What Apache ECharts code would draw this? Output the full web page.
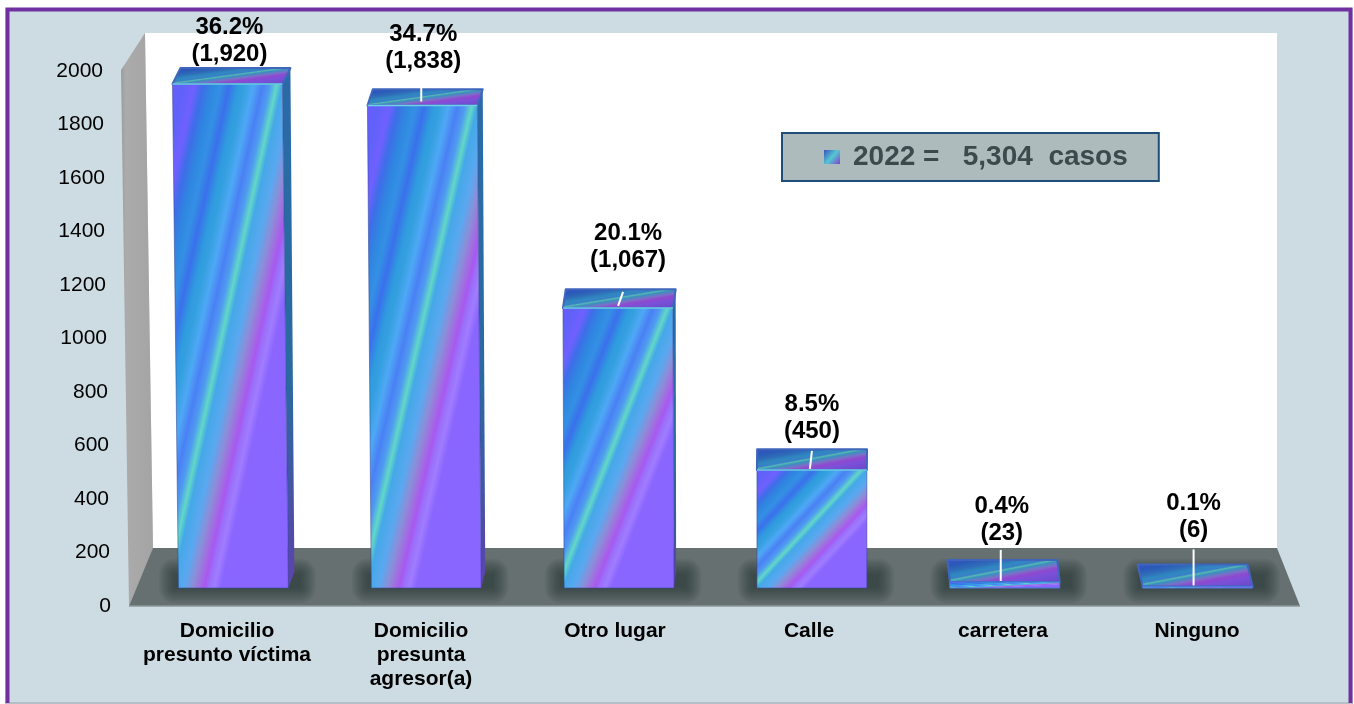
<!DOCTYPE html>
<html>
<head>
<meta charset="utf-8">
<style>html,body{margin:0;padding:0;background:#fff}#c{width:1354px;height:704px}</style>
<script src="https://cdn.jsdelivr.net/npm/echarts@6/dist/echarts.min.js"></script>
</head>
<body>
<div id="c"></div>
<script>
const categories = ['Domicilio\npresunto víctima', 'Domicilio\npresunta\nagresor(a)', 'Otro lugar', 'Calle', 'carretera', 'Ninguno'];
const values = [1920, 1838, 1067, 450, 23, 6];
const percents = ['36.2%', '34.7%', '20.1%', '8.5%', '0.4%', '0.1%'];
const counts = ['(1,920)', '(1,838)', '(1,067)', '(450)', '(23)', '(6)'];
const yTicks = [0, 200, 400, 600, 800, 1000, 1200, 1400, 1600, 1800, 2000];
const legendName = '2022 =   5,304  casos';

// Annotation layout, relative to each bar's centre and front-top edge
const labelNudge = [[-4, -16], [-3, -31], [9, -34], [0, -25], [-3, -35], [-4, -43]];
const leaderNudge = [null, [-5, -28, -5, -4], [4, -16, -1, -2], [0, -19, -2, -1], [-4, -32, -4, -1], [-4, -37, -4, -1]];

const FONT = '"Liberation Sans", Arial, sans-serif';
const stops = [
  [0, '#6a5cff'], [.05, '#5f62f8'], [.10, '#7060ff'], [.14, '#3d6ee8'], [.18, '#2f86e0'], [.22, '#3490e4'],
  [.26, '#3a70ec'], [.30, '#2f9ade'], [.33, '#35a0e0'], [.37, '#4ea8f5'], [.41, '#4a80f5'], [.445, '#4f9cf0'],
  [.475, '#62d8c6'], [.50, '#45a8e8'], [.55, '#5aa8f0'], [.59, '#8a8fd8'], [.62, '#a070e0'],
  [.645, '#a858f0'], [.665, '#9a70fa'], [.69, '#a07cff'], [.72, '#8a66ff'], [1, '#8866ff']
].map(s => ({offset: s[0], color: s[1]}));
const topStops = [
  [0, '#3a50c8'], [.14, '#2a5ab8'], [.26, '#2f6cb8'], [.36, '#2f88c0'], [.44, '#3a80c8'],
  [.475, '#55b8b0'], [.52, '#3a90c0'], [.60, '#7a70c8'], [.68, '#9048d0'], [.78, '#7a50d8'], [1, '#6a48c8']
].map(s => ({offset: s[0], color: s[1]}));

// Gradient whose iso-lines run along the box's anti-diagonal (stretched-texture look)
function stretched(x, y, w, h, cs) {
  const L = w * w + h * h, k = 2 * w * h / L;
  return {type: 'linear', global: true, x: x, y: y, x2: x + k * h, y2: y + k * w, colorStops: cs};
}

function renderBar(params, api) {
  const i = api.value(0), v = api.value(1);
  const base = api.coord([i, 0]), head = api.coord([i, v]);
  const cx = base[0], y0 = base[1], yt = head[1], h = y0 - yt;
  const w = api.size([1, 0])[0] * 0.57;
  const tilt = (cx - 826) * h * 2e-5;
  const dx = (826 - cx) * 0.0135, dy = 22 - v / 320;
  const fl = [cx - w / 2, y0], fr = [cx + w / 2, y0];
  const tl = [cx - w / 2 + tilt, yt], tr = [cx + w / 2 + tilt, yt];
  const bl = [tl[0] + dx, yt - dy], br = [tr[0] + dx, yt - dy];
  const kids = [];
  for (let k = 0; k < 10; k++) {
    const g = k * 1.7;
    kids.push({type: 'rect', shape: {x: fl[0] - 4 - g, y: y0 - 14 - g, width: w + 16 + 2 * g, height: 14 + 2 * g, r: g},
      style: {fill: 'rgba(35,42,42,.07)'}});
  }
  if (v > 100 && dx > 0.5) {
    const rb = [fr[0] + dx * 0.75, y0 - dy];
    kids.push({type: 'polygon', shape: {points: [tr, br, rb, fr]},
      style: {fill: {type: 'linear', global: true, x: 0, y: yt - dy, x2: 0, y2: y0,
        colorStops: [{offset: 0, color: '#2a6aa8'}, {offset: .6, color: '#2a6aa0'}, {offset: .85, color: '#4a50a8'}, {offset: 1, color: '#5f42b0'}]}}});
  }
  kids.push({type: 'polygon', shape: {points: [bl, br, tr, tl]},
    style: {fill: stretched(Math.min(bl[0], tl[0]), yt - dy, w + Math.abs(dx), dy, topStops),
      stroke: '#3f66bc', lineWidth: 2, lineJoin: 'round'}});
  kids.push({type: 'polygon', shape: {points: [tl, tr, fr, fl]},
    style: {fill: stretched(Math.min(tl[0], fl[0]), yt, w, Math.max(h, 1), stops),
      stroke: h > 10 ? 'rgba(50,70,150,.55)' : '#4a7ad8', lineWidth: 1}});
  if (h > 10) {
    kids.push({type: 'line', shape: {x1: tl[0], y1: yt, x2: tr[0], y2: yt}, style: {stroke: '#6fd0e8', lineWidth: 1.5}});
  }
  const lead = leaderNudge[i];
  if (lead) {
    kids.push({type: 'line', shape: {x1: cx + lead[0], y1: yt + lead[1], x2: cx + lead[2], y2: yt + lead[3]},
      style: {stroke: '#fff', lineWidth: 2}});
  }
  const n = labelNudge[i];
  kids.push({type: 'text', style: {text: percents[i] + '\n' + counts[i], x: cx + n[0], y: yt + n[1],
    align: 'center', verticalAlign: 'bottom', font: 'bold 24px ' + FONT, lineHeight: 27, fill: '#000'}, z2: 50});
  return {type: 'group', children: kids};
}

// The reference's tick labels lean with the wall: each higher tick sits a little further left.
const yRich = {};
yTicks.forEach(t => {
  yRich['t' + t] = {padding: [0, Math.round(8 * t / 2000), 0, 0], color: '#000', fontFamily: FONT, fontSize: 21};
});

const chart = echarts.init(document.getElementById('c'), null, {renderer: 'canvas'});
chart.setOption({
  animation: false,
  backgroundColor: 'transparent',
  legend: {
    show: true, left: 782, top: 133, orient: 'horizontal',
    padding: [10, 31, 10, 42], borderColor: '#1F4E79', borderWidth: 2, borderRadius: 0,
    backgroundColor: '#AEBBBD', itemWidth: 16, itemHeight: 14, selectedMode: false,
    data: [{name: legendName, icon: 'rect', itemStyle: {color: {type: 'linear', x: 0, y: 0, x2: 1, y2: 1,
      colorStops: [{offset: 0, color: '#3a50c0'}, {offset: .5, color: '#55c8d0'}, {offset: 1, color: '#8040d0'}]}}}],
    textStyle: {fontFamily: FONT, fontWeight: 'bold', fontSize: 28, color: '#3B4A4C', padding: [0, 0, 0, 8]}
  },
  grid: [
    {left: 130, width: 1164, top: 71, height: 535},
    {left: 137, width: 1157, top: 63, height: 525}
  ],
  xAxis: [
    {gridIndex: 0, type: 'category', data: categories, axisLine: {show: false}, axisTick: {show: false},
      axisLabel: {margin: 13, color: '#000', fontFamily: FONT, fontWeight: 'bold', fontSize: 21, lineHeight: 24, interval: 0}},
    {gridIndex: 1, type: 'category', data: categories, show: false}
  ],
  yAxis: [
    {gridIndex: 0, type: 'value', min: 0, max: 2000, interval: 200, splitLine: {show: false},
      axisLine: {show: false}, axisTick: {show: false},
      axisLabel: {margin: 19, color: '#000', fontFamily: FONT, fontSize: 21,
        formatter: v => '{t' + v + '|' + v + '}', rich: yRich}},
    {gridIndex: 1, type: 'value', min: 0, max: 2000, show: false, splitLine: {show: false}}
  ],
  graphic: {elements: [
    {type: 'rect', z: -10, shape: {x: 5, y: 8, width: 1348, height: 695}, style: {fill: '#CDDCE2'}},
    {type: 'rect', z: -9, shape: {x: 5, y: 702, width: 1348, height: 2}, style: {fill: '#b4c0c6'}},
    {type: 'polyline', z: -8, shape: {points: [[7.5, 703], [7.5, 9.5], [1350.5, 9.5], [1350.5, 703]]},
      style: {fill: null, stroke: '#7030A0', lineWidth: 4}},
    {type: 'polygon', z: -7, shape: {points: [[145, 33], [1277, 33], [1277, 549], [153, 549]]}, style: {fill: '#fff'}},
    {type: 'polygon', z: -6, shape: {points: [[121, 70], [145, 33], [153, 549], [129, 606]]},
      style: {fill: {type: 'linear', x: 0, y: 0, x2: 1, y2: 0, colorStops: [{offset: 0, color: '#9c9c9c'}, {offset: .15, color: '#ababab'}, {offset: 1, color: '#a4a4a4'}]}}},
    {type: 'polygon', z: -5, shape: {points: [[153, 548], [1277, 548], [1300, 606], [129, 606]]}, style: {fill: '#667070'}},
    {type: 'line', z: -4, shape: {x1: 129, y1: 606, x2: 1300, y2: 606}, style: {stroke: '#8d9899', lineWidth: 1.5}}
  ]},
  series: [{
    type: 'custom', name: legendName, xAxisIndex: 1, yAxisIndex: 1, coordinateSystem: 'cartesian2d',
    clip: false, renderItem: renderBar, encode: {x: 0, y: 1},
    data: values.map((v, i) => [i, v]), z: 3
  }]
});
</script>
</body>
</html>
